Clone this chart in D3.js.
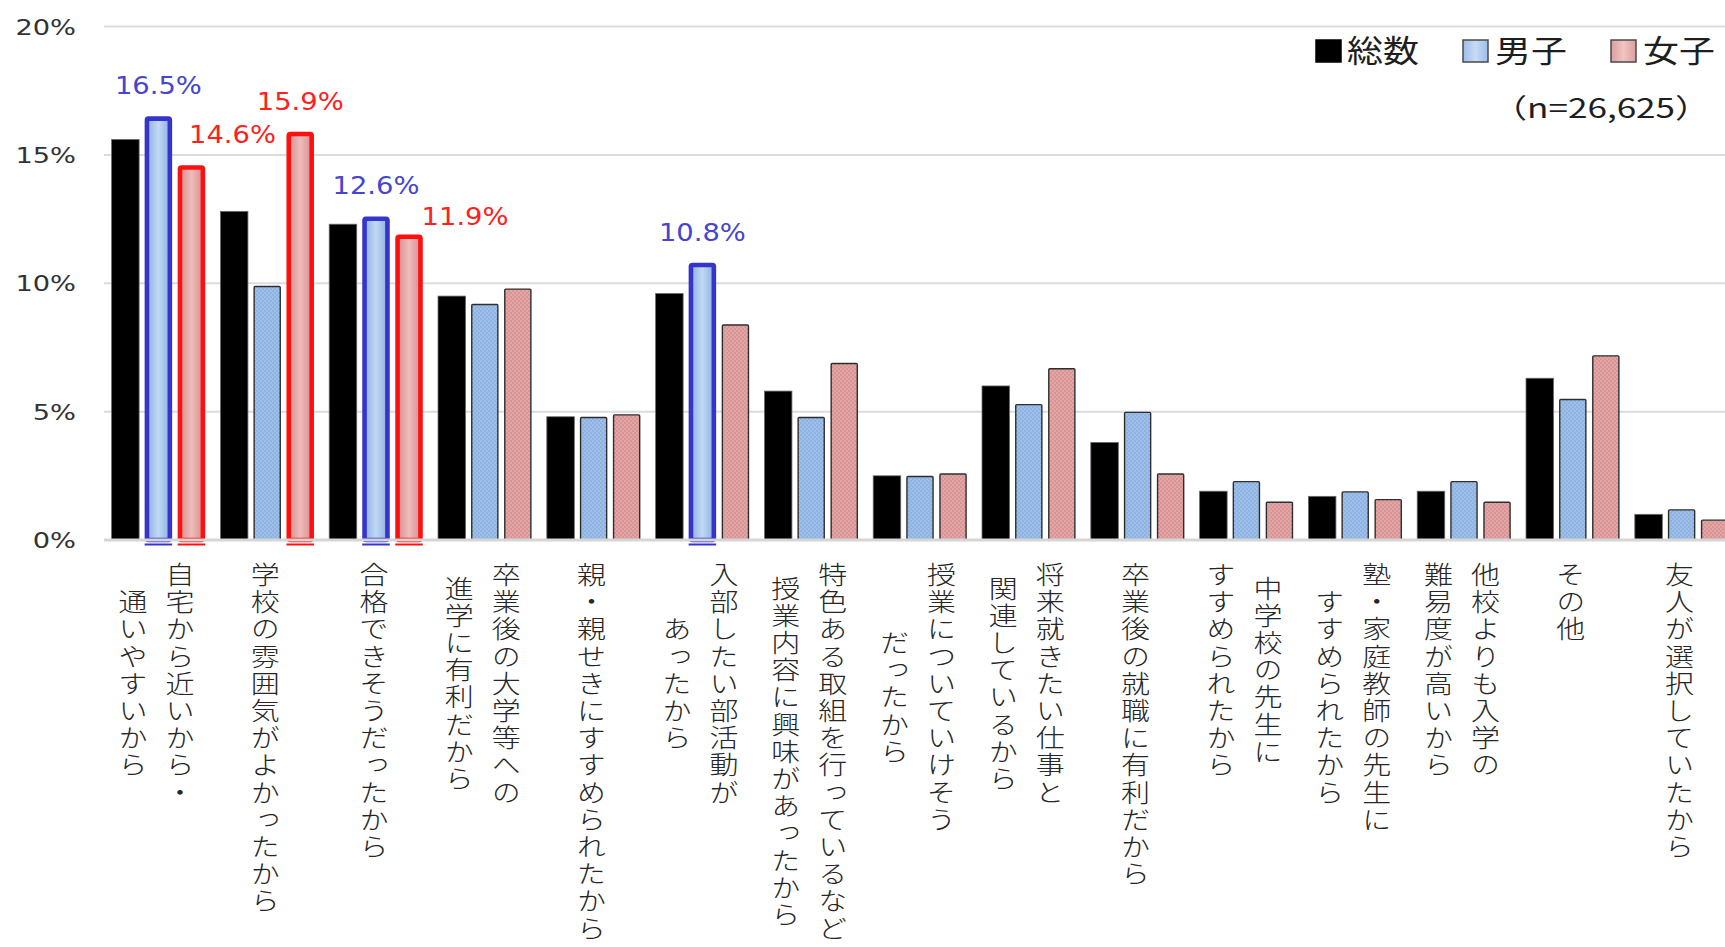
<!DOCTYPE html>
<html lang="ja">
<head>
<meta charset="utf-8">
<script src="https://cdn.jsdelivr.net/npm/d3@7"></script>
<style>
  html, body { margin: 0; padding: 0; background: #fff; overflow: hidden; }
  svg { display: block; }
</style>
</head>
<body>
<svg id="chart" width="1725" height="947"></svg>
<script>
// 志望理由（総数・男子・女子）の割合
const categories = [
  "自宅から近いから・\n通いやすいから",
  "学校の雰囲気がよかったから",
  "合格できそうだったから",
  "卒業後の大学等への\n進学に有利だから",
  "親・親せきにすすめられたから",
  "入部したい部活動が\nあったから",
  "特色ある取組を行っているなど\n授業内容に興味があったから",
  "授業についていけそう\nだったから",
  "将来就きたい仕事と\n関連しているから",
  "卒業後の就職に有利だから",
  "中学校の先生に\nすすめられたから",
  "塾・家庭教師の先生に\nすすめられたから",
  "他校よりも入学の\n難易度が高いから",
  "その他",
  "友人が選択していたから"
];
const seriesNames = ["総数", "男子", "女子"];
const totalValues  = [15.6, 12.8, 12.3, 9.5, 4.8, 9.6, 5.8, 2.5, 6.0, 3.8, 1.9, 1.7, 1.9, 6.3, 1.0];
const maleValues   = [16.5, 9.9, 12.6, 9.2, 4.8, 10.8, 4.8, 2.5, 5.3, 5.0, 2.3, 1.9, 2.3, 5.5, 1.2];
const femaleValues = [14.6, 15.9, 11.9, 9.8, 4.9, 8.4, 6.9, 2.6, 6.7, 2.6, 1.5, 1.6, 1.5, 7.2, 0.8];
const tickValues = [0, 5, 10, 15, 20];
const tickLabels = ["0%", "5%", "10%", "15%", "20%"];
const highlightMale = [0, 2, 5];
const highlightFemale = [0, 1, 2];
const sampleNote = "（n=26,625）";

// ---- layout ----
const W = 1725, H = 947;
const plotLeft = 104, plotRight = 1736, baseY = 540, topY = 26.5;
const SX = 1.16;                 // horizontal text stretch
const latinFont = "'DejaVu Sans', Verdana, sans-serif";
const cjkFont = "'Noto Sans CJK JP', 'Noto Sans CJK SC', sans-serif";

const svg = d3.select("#chart");
const defs = svg.append("defs");

// dotted fills for the plain male / female bars
function dotPattern(id, base, dot) {
  const p = defs.append("pattern").attr("id", id)
    .attr("width", 4).attr("height", 4).attr("patternUnits", "userSpaceOnUse");
  p.append("rect").attr("width", 4).attr("height", 4).attr("fill", base);
  p.append("circle").attr("cx", 1).attr("cy", 1).attr("r", 0.8).attr("fill", dot);
  p.append("circle").attr("cx", 3).attr("cy", 3).attr("r", 0.8).attr("fill", dot);
}
dotPattern("dotBlue", "#8db3e2", "#b7cff0");
dotPattern("dotPink", "#d99594", "#ecbcbb");

// soft glossy fills for the emphasised bars
function glossGradient(id, edge, mid) {
  const g = defs.append("linearGradient").attr("id", id)
    .attr("x1", "0").attr("x2", "1").attr("y1", "0").attr("y2", "0");
  g.append("stop").attr("offset", "0%").attr("stop-color", edge);
  g.append("stop").attr("offset", "50%").attr("stop-color", mid);
  g.append("stop").attr("offset", "100%").attr("stop-color", edge);
}
glossGradient("glossBlue", "#8cafe0", "#c2d9f6");
glossGradient("glossPink", "#d48e8e", "#f0bcbc");
glossGradient("legBlue", "#9dbde8", "#c7dbf5");
glossGradient("legPink", "#dc9e9d", "#efc4c3");

// ---- scales ----
const x0 = d3.scaleBand().domain(d3.range(categories.length))
  .range([plotLeft, plotRight]).paddingInner(0.14).paddingOuter(0.07);
const x1 = d3.scaleBand().domain(d3.range(3))
  .range([0, x0.bandwidth()]).paddingInner(0.167).paddingOuter(0);
const y = d3.scaleLinear().domain([0, 20]).range([baseY, topY]);

// ---- gridlines ----
svg.append("g").selectAll("line").data(tickValues.filter(v => v > 0)).join("line")
  .attr("x1", plotLeft).attr("x2", W)
  .attr("y1", d => y(d)).attr("y2", d => y(d))
  .attr("stroke", "#dcdcdc").attr("stroke-width", 2);

// ---- y tick labels ----
function stretchedText(g, x, yy, txt, sx = SX) {
  return g.append("text").attr("transform", `translate(${x},${yy}) scale(${sx},1)`).text(txt);
}
const yAxisG = svg.append("g")
  .attr("font-family", latinFont).attr("font-size", 22).attr("fill", "#333")
  .attr("text-anchor", "end");
tickValues.forEach((v, i) => {
  stretchedText(yAxisG, 76, y(v) + 8, tickLabels[i], 1.24);
});

// ---- bars ----
const series = [totalValues, maleValues, femaleValues];
const barsG = svg.append("g");
const marks = [];
categories.forEach((c, ci) => {
  series.forEach((vals, si) => {
    const hl = (si === 1 && highlightMale.includes(ci)) || (si === 2 && highlightFemale.includes(ci));
    marks.push({ ci, si, v: vals[ci], hl });
  });
});

marks.forEach(m => {
  const bx = x0(m.ci) + x1(m.si);
  const bw = x1.bandwidth();
  const top = y(m.v);
  if (m.si === 0) {
    barsG.append("rect").attr("x", bx).attr("y", top)
      .attr("width", bw).attr("height", baseY - top)
      .attr("fill", "#000").attr("stroke", "#6a6a6a").attr("stroke-width", 0.8);
  } else if (!m.hl) {
    barsG.append("rect").attr("x", bx + 0.7).attr("y", top + 0.7)
      .attr("width", bw - 1.4).attr("height", baseY - top - 0.7)
      .attr("rx", 1)
      .attr("fill", m.si === 1 ? "url(#dotBlue)" : "url(#dotPink)")
      .attr("stroke", "#2e2e2e").attr("stroke-width", 1.4);
  } else {
    const sw = 4.6;
    barsG.append("rect").attr("x", bx + sw / 2).attr("y", top + sw / 2)
      .attr("width", bw - sw).attr("height", baseY - top - sw / 2)
      .attr("rx", 1.5)
      .attr("fill", m.si === 1 ? "url(#glossBlue)" : "url(#glossPink)")
      .attr("stroke", m.si === 1 ? "#3535cc" : "#ff1010").attr("stroke-width", sw);
  }
});

// ---- baseline ----
svg.append("line").attr("x1", plotLeft).attr("x2", W)
  .attr("y1", baseY).attr("y2", baseY)
  .attr("stroke", "#d6d6d6").attr("stroke-width", 3);

// markers under emphasised bars
marks.filter(m => m.hl).forEach(m => {
  const bx = x0(m.ci) + x1(m.si);
  svg.append("line").attr("x1", bx).attr("x2", bx + x1.bandwidth())
    .attr("y1", baseY + 4.5).attr("y2", baseY + 4.5)
    .attr("stroke", m.si === 1 ? "#3535cc" : "#ff1010").attr("stroke-width", 2);
});

// ---- value labels for emphasised bars ----
// offsets keep neighbouring labels clear of each other
const labelNudge = { "2-0": [41, 0], "2-2": [56, 13] };
const valG = svg.append("g").attr("font-family", latinFont).attr("font-size", 24)
  .attr("text-anchor", "middle");
marks.filter(m => m.hl).forEach(m => {
  const cx = x0(m.ci) + x1(m.si) + x1.bandwidth() / 2;
  const nudge = labelNudge[`${m.si}-${m.ci}`] || [0, 0];
  stretchedText(valG, cx + nudge[0], y(m.v) - 22 + nudge[1], m.v.toFixed(1) + "%", 1.14)
    .attr("fill", m.si === 1 ? "#4545cf" : "#ff2020");
});

// ---- category labels (vertical, stacked columns right to left) ----
const catG = svg.append("g").attr("font-family", cjkFont).attr("font-size", 25)
  .attr("font-weight", 300).attr("fill", "#262626");
const pitch = 27.2, colGap = 47, labelTop = 562;
categories.forEach((c, ci) => {
  const lines = c.split("\n");
  const maxLen = d3.max(lines, l => l.length);
  const centre = x0(ci) + x0.bandwidth() / 2 - 2;
  const midY = labelTop + maxLen * pitch / 2;
  lines.forEach((ln, li) => {
    const cx = centre + ((lines.length - 1) / 2 - li) * colGap;
    catG.append("text")
      .attr("transform", `translate(${cx},${midY}) scale(${SX},1)`)
      .style("writing-mode", "vertical-rl")
      .style("text-orientation", "upright")
      .style("letter-spacing", (pitch - 25) + "px")
      .attr("text-anchor", "middle")
      .text(ln);
  });
});

// ---- legend ----
const legG = svg.append("g");
const legendItems = [
  { name: seriesNames[0], fill: "#000", stroke: "#000", sx: 1316, tx: 1347 },
  { name: seriesNames[1], fill: "url(#legBlue)", stroke: "#4a4a4a", sx: 1463, tx: 1495 },
  { name: seriesNames[2], fill: "url(#legPink)", stroke: "#4a4a4a", sx: 1611, tx: 1643 }
];
legendItems.forEach(it => {
  legG.append("rect").attr("x", it.sx).attr("y", 40).attr("width", 25).attr("height", 22)
    .attr("fill", it.fill).attr("stroke", it.stroke).attr("stroke-width", 1.5);
  stretchedText(legG, it.tx, 62, it.name)
    .attr("font-family", cjkFont).attr("font-size", 31).attr("fill", "#1e1e1e");
});
stretchedText(legG, 1492, 118, sampleNote, 1.3)
  .attr("font-family", cjkFont).attr("font-size", 27).attr("fill", "#1e1e1e");
</script>
</body>
</html>
